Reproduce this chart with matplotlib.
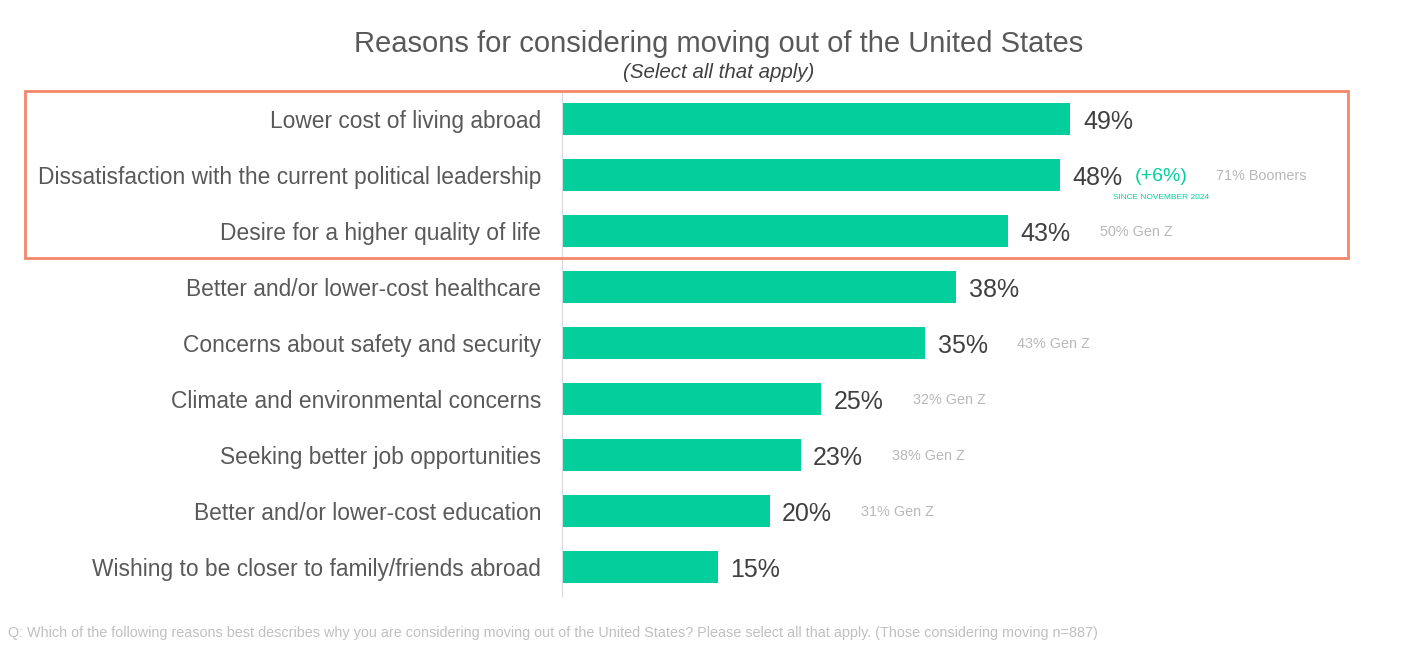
import matplotlib.pyplot as plt
from matplotlib.patches import Rectangle

reasons = [
    "Lower cost of living abroad",
    "Dissatisfaction with the current political leadership",
    "Desire for a higher quality of life",
    "Better and/or lower-cost healthcare",
    "Concerns about safety and security",
    "Climate and environmental concerns",
    "Seeking better job opportunities",
    "Better and/or lower-cost education",
    "Wishing to be closer to family/friends abroad",
]
shares = [49, 48, 43, 38, 35, 25, 23, 20, 15]
notes = ["", "71% Boomers", "50% Gen Z", "", "43% Gen Z", "32% Gen Z",
         "38% Gen Z", "31% Gen Z", ""]

plt.rcParams['font.family'] = ['Liberation Sans', 'DejaVu Sans']

green = "#03cf9c"
fig = plt.figure(figsize=(14.16, 6.58), dpi=100)
ax = fig.add_axes([562 / 1416, 1 - 596 / 658, 830 / 1416, (596 - 93) / 658])

y = list(range(len(reasons)))
ax.barh(y, shares, height=0.58, color=green)
ax.set_xlim(0, 80)
ax.set_ylim(8.52, -0.46)

ax.set_yticks(y)
ax.set_yticklabels(reasons, fontsize=16.4, color="#595959")
ax.tick_params(axis="y", length=0, pad=15)
ax.set_xticks([])
for s in ["top", "right", "bottom"]:
    ax.spines[s].set_visible(False)
ax.spines["left"].set_color("#d9d9d9")

for i, v in enumerate(shares):
    ax.annotate(f"{v}%", (v, i), xytext=(9, -2), textcoords="offset points",
                va="center", ha="left", fontsize=18, color="#404040")
    if notes[i] and i != 1:
        ax.annotate(notes[i], (v, i), xytext=(66, -1), textcoords="offset points",
                    va="center", ha="left", fontsize=10.4, color="#b8b8b8")

# the political leadership row has an extra change marker
ax.annotate("(+6%)", (48, 1), xytext=(54, -1.5), textcoords="offset points",
            va="center", ha="left", fontsize=14, color=green)
ax.annotate("SINCE NOVEMBER 2024", (48, 1), xytext=(38, -16), textcoords="offset points",
            va="center", ha="left", fontsize=6, color=green)
ax.annotate(notes[1], (48, 1), xytext=(112, -1), textcoords="offset points",
            va="center", ha="left", fontsize=10.4, color="#b8b8b8")

fig.patches.append(Rectangle((25 / 1416, 1 - 258 / 658), 1323 / 1416, 167 / 658,
                             transform=fig.transFigure, fill=False,
                             edgecolor="#f4876b", linewidth=2))

fig.text(719 / 1416, 1 - 44 / 658, "Reasons for considering moving out of the United States",
         ha="center", va="center", fontsize=21, color="#595959")
fig.text(719 / 1416, 1 - 72 / 658, "(Select all that apply)",
         ha="center", va="center", fontsize=14.8, style="italic", color="#404040")
fig.text(8 / 1416, 1 - 633 / 658,
         "Q: Which of the following reasons best describes why you are considering moving out of the United States? "
         "Please select all that apply. (Those considering moving n=887)",
         ha="left", va="center", fontsize=10.4, color="#c0c0c0")

fig.savefig("out.png", dpi=100)
